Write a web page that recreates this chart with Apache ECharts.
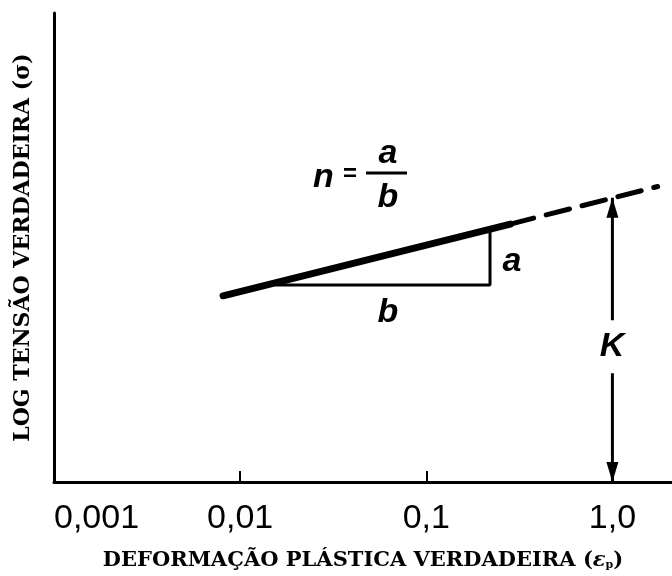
<!DOCTYPE html>
<html>
<head>
<meta charset="utf-8">
<script src="https://cdn.jsdelivr.net/npm/echarts@6/dist/echarts.min.js"></script>
<style>
  html, body { margin: 0; padding: 0; background: #fff; }
  #chart { width: 672px; height: 576px; }
</style>
</head>
<body>
<div id="chart"></div>
<script>
// x: true plastic strain (log), y: log true stress (arbitrary units)
const tickValues = [0.001, 0.01, 0.1, 1]
const tickLabels = ['0,001', '0,01', '0,1', '1,0']

const solidStrain = [0.0081, 0.283]
const solidStress = [0.397, 0.55]
const dashStrain = [0.283, 1.75]
const dashStress = [0.55, 0.63]

const triStrain = [0.0155, 0.22, 0.22]
const triStress = [0.42, 0.42, 0.535]

const kStrain = 1
const kTop = 0.606
const kGapTop = 0.345
const kGapBottom = 0.232

const pairs = (xs, ys) => xs.map((x, i) => [x, ys[i]])

const chart = echarts.init(document.getElementById('chart'))

const black = '#000'
const italic = { fontFamily: 'Liberation Sans', fontStyle: 'italic', fontWeight: 'bold', fill: black }
const serif = 'DejaVu Serif'

chart.setOption({
  animation: false,
  grid: { left: 54, right: 0, top: 13, bottom: 94 },
  xAxis: {
    type: 'log',
    min: 0.001,
    max: 2.09,
    name: '{t|DEFORMAÇÃO PLÁSTICA VERDADEIRA (}{e|ε}{s|p}{t|)}',
    nameLocation: 'middle',
    nameGap: 68,
    nameTextStyle: {
      rich: {
        t: { fontFamily: serif, fontWeight: 'bold', fontSize: 21, color: black },
        e: { fontFamily: serif, fontWeight: 'bold', fontStyle: 'italic', fontSize: 21, color: black },
        s: { fontFamily: serif, fontWeight: 'bold', fontSize: 11, color: black, verticalAlign: 'bottom', padding: [8, 0, 0, 0] },
      },
    },
    axisLine: { lineStyle: { color: black, width: 3 } },
    axisTick: {
      inside: true,
      length: 11,
      customValues: tickValues.slice(1),
      lineStyle: { color: black, width: 2 },
    },
    splitLine: { show: false },
    axisLabel: {
      margin: 20,
      fontFamily: 'Liberation Sans',
      fontSize: 34,
      color: black,
      customValues: tickValues,
      alignMinLabel: 'left',
      formatter: (v) => {
        const i = tickValues.findIndex((t) => Math.abs(Math.log10(t) - Math.log10(v)) < 1e-6)
        return i >= 0 ? tickLabels[i] : ''
      },
    },
  },
  yAxis: {
    type: 'value',
    min: 0,
    max: 1,
    name: 'LOG TENSÃO VERDADEIRA (σ)',
    nameLocation: 'middle',
    nameGap: 20,
    nameTextStyle: { fontFamily: serif, fontWeight: 'bold', fontSize: 22, color: black },
    axisLine: { show: true, lineStyle: { color: black, width: 3 } },
    axisTick: { show: false },
    axisLabel: { show: false },
    splitLine: { show: false },
  },
  series: [
    {
      type: 'line',
      data: pairs(solidStrain, solidStress),
      symbol: 'none',
      lineStyle: { color: black, width: 7, cap: 'round' },
    },
    {
      type: 'line',
      data: pairs(dashStrain, dashStress),
      symbol: 'none',
      lineStyle: { color: black, width: 5, type: [24, 13], cap: 'round' },
    },
    {
      type: 'line',
      data: pairs(triStrain, triStress),
      symbol: 'none',
      lineStyle: { color: black, width: 3 },
    },
    {
      type: 'line',
      data: [
        [kStrain, kGapTop],
        { value: [kStrain, kTop], symbol: 'triangle', symbolSize: [12, 20], symbolOffset: [0, 10] },
      ],
      symbol: 'none',
      itemStyle: { color: black },
      lineStyle: { color: black, width: 3 },
    },
    {
      type: 'line',
      data: [
        [kStrain, kGapBottom],
        { value: [kStrain, 0], symbol: 'triangle', symbolSize: [12, 20], symbolRotate: 180, symbolOffset: [0, -10] },
      ],
      symbol: 'none',
      itemStyle: { color: black },
      lineStyle: { color: black, width: 3 },
    },
  ],
  graphic: [
    { type: 'text', x: 313, y: 178, style: { ...italic, text: 'n', fontSize: 34, verticalAlign: 'middle' } },
    { type: 'text', x: 343, y: 174, style: { fontFamily: 'Liberation Sans', fontWeight: 'bold', fill: black, text: '=', fontSize: 24, verticalAlign: 'middle' } },
    { type: 'line', shape: { x1: 366, y1: 173, x2: 407, y2: 173 }, style: { stroke: black, lineWidth: 3 } },
    { type: 'text', x: 388, y: 154, style: { ...italic, text: 'a', fontSize: 34, align: 'center', verticalAlign: 'middle' } },
    { type: 'text', x: 388, y: 198, style: { ...italic, text: 'b', fontSize: 34, align: 'center', verticalAlign: 'middle' } },
    { type: 'text', x: 512, y: 262, style: { ...italic, text: 'a', fontSize: 34, align: 'center', verticalAlign: 'middle' } },
    { type: 'text', x: 388, y: 313, style: { ...italic, text: 'b', fontSize: 34, align: 'center', verticalAlign: 'middle' } },
    { type: 'text', x: 612, y: 347, style: { ...italic, text: 'K', fontSize: 34, align: 'center', verticalAlign: 'middle' } },
  ],
})
</script>
</body>
</html>
